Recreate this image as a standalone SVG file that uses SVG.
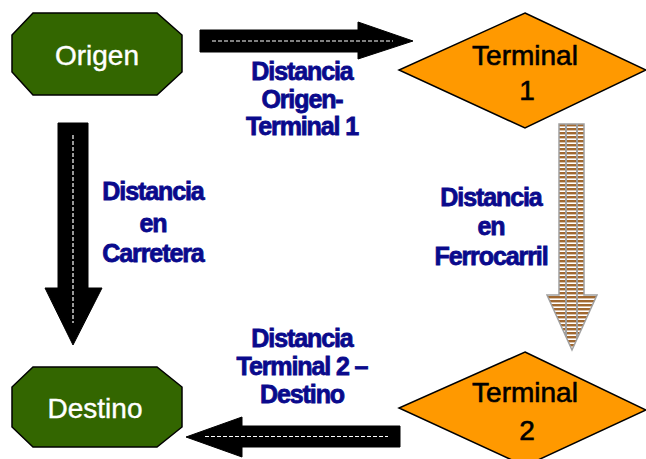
<svg xmlns="http://www.w3.org/2000/svg" width="646" height="459" viewBox="0 0 646 459">
  <style>
    .oct { fill: #336600; stroke: #000; stroke-width: 1.5; }
    .dia { fill: #FF9900; stroke: #000; stroke-width: 1.5; }
    .ntxt { font-family: "Liberation Sans", Arial, sans-serif; font-size: 28px; text-anchor: middle; }
    .wt { fill: #fff; stroke: #fff; stroke-width: 0.4; }
    .bk { fill: #000; stroke: #000; stroke-width: 0.6; }
    .road { fill: #000; stroke: #000; stroke-width: 1; }
    .dash { stroke: #fff; stroke-width: 1.2; fill: none; stroke-dasharray: 4 2; }
    .lbl { font-family: "Liberation Sans", Arial, sans-serif; font-weight: bold; font-size: 25px; fill: #0A0A8C; stroke: #0A0A8C; stroke-width: 0.8; text-anchor: middle; letter-spacing: -1.1px; }
  </style>
  <defs>
    <pattern id="ties" patternUnits="userSpaceOnUse" width="4" height="4">
      <rect width="4" height="4" fill="#ffffff"/>
      <rect width="4" height="2.4" fill="#A06830"/>
    </pattern>
    <clipPath id="railclip">
      <polygon points="559,124 584,124 584,295 597,295 572,350 547,295 559,295"/>
    </clipPath>
  </defs>

  <rect width="646" height="459" fill="#fff"/>

  <g id="connectors">
    <g id="origen-terminal1">
      <polygon class="road" points="200,30 358,30 358,22 413,41 358,59 358,52 200,52"/>
      <line class="dash" x1="212" y1="41" x2="393" y2="41"/>
    </g>
    <g id="origen-destino">
      <polygon class="road" points="58,123 88,123 88,288 102,288 73,345 45,288 58,288"/>
      <line class="dash" x1="73" y1="135" x2="73" y2="323" stroke-dasharray="2 2"/>
    </g>
    <g id="terminal2-destino">
      <polygon class="road" points="400,426 400,447 242,447 242,457 186,437 242,417 242,426"/>
      <line class="dash" x1="205" y1="436.5" x2="388" y2="436.5"/>
    </g>
    <g id="terminal1-terminal2">
      <polygon points="559,124 584,124 584,295 597,295 572,350 547,295 559,295" fill="url(#ties)"/>
      <g clip-path="url(#railclip)" stroke="#A0A0A0" stroke-width="2">
        <line x1="566" y1="124" x2="566" y2="350"/>
        <line x1="577" y1="124" x2="577" y2="350"/>
      </g>
      <polygon points="559,124 584,124 584,295 597,295 572,350 547,295 559,295" fill="none" stroke="#A0A0A0" stroke-width="1.5"/>
    </g>
    <g id="labels">
      <text class="lbl" x="302" y="80">Distancia</text>
      <text class="lbl" x="302" y="108">Origen-</text>
      <text class="lbl" x="302" y="135">Terminal 1</text>
      <text class="lbl" x="153" y="200">Distancia</text>
      <text class="lbl" x="153" y="232">en</text>
      <text class="lbl" x="153" y="262">Carretera</text>
      <text class="lbl" x="491" y="206">Distancia</text>
      <text class="lbl" x="491" y="235">en</text>
      <text class="lbl" x="491" y="265">Ferrocarril</text>
      <text class="lbl" x="302" y="347">Distancia</text>
      <text class="lbl" x="302" y="375">Terminal 2 –</text>
      <text class="lbl" x="302" y="403">Destino</text>
    </g>
  </g>

  <g id="origen">
    <polygon class="oct" points="33,13 157,13 182,35 182,72 157,95 33,95 12,72 12,35"/>
    <text class="ntxt wt" x="97" y="65">Origen</text>
  </g>
  <g id="destino">
    <polygon class="oct" points="33,367 157,367 182,387 182,427 157,447 33,447 12,427 12,387"/>
    <text class="ntxt wt" x="95" y="418">Destino</text>
  </g>
  <g id="terminal1">
    <polygon class="dia" points="525,13 646,70 525,128 399,70"/>
    <text class="ntxt bk" x="525" y="65">Terminal</text>
    <text class="ntxt bk" x="527" y="100">1</text>
  </g>
  <g id="terminal2">
    <polygon class="dia" points="525,352 646,410 525,466 399,408"/>
    <text class="ntxt bk" x="525" y="402">Terminal</text>
    <text class="ntxt bk" x="527" y="440">2</text>
  </g>
</svg>
